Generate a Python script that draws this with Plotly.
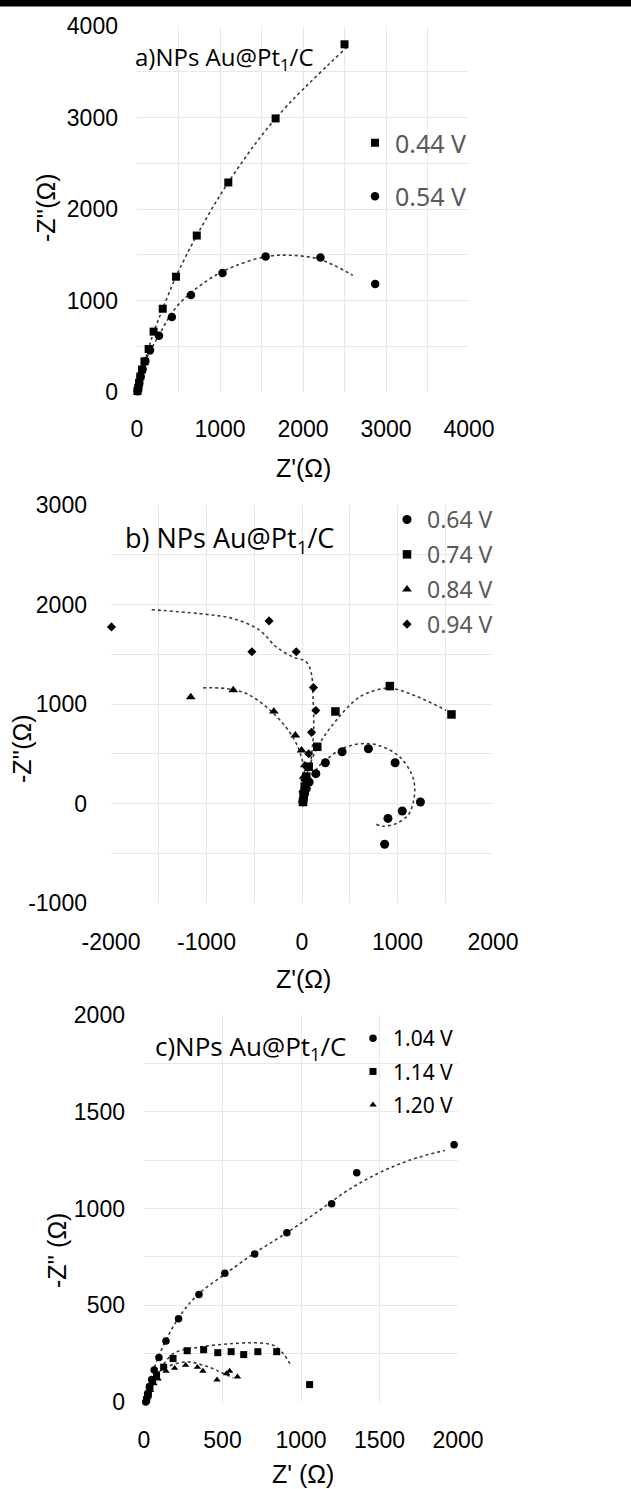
import plotly.graph_objects as go

W, H = 631, 1489

# ---------------- Panel a data ----------------
a_044_x = [5, 15, 25, 40, 60, 90, 140, 200, 310, 470, 720, 1100, 1670, 2500]
a_044_y = [10, 45, 100, 170, 245, 335, 470, 660, 910, 1260, 1710, 2290, 2990, 3800]
a_054_x = [8, 16, 28, 44, 68, 100, 156, 265, 420, 650, 1030, 1550, 2210, 2870]
a_054_y = [8, 44, 98, 170, 250, 335, 455, 615, 820, 1060, 1300, 1480, 1470, 1180]
a_044_fit_x = [0, 100, 200, 310, 470, 720, 1100, 1670, 2525]
a_044_fit_y = [0, 350, 650, 910, 1260, 1710, 2290, 2990, 3765]
a_054_fit_x = [0, 100, 270, 480, 840, 1160, 1560, 1840, 2200, 2600]
a_054_fit_y = [0, 330, 630, 935, 1215, 1370, 1480, 1495, 1450, 1275]

# ---------------- Panel b data ----------------
b_064_x = [10, 17, 28, 45, 75, 145, 245, 420, 695, 975, 1240, 1050, 900, 865]
b_064_y = [17, 50, 100, 150, 215, 300, 410, 520, 550, 410, 15, -75, -150, -410]
b_074_x = [10, 17, 28, 45, 70, 160, 350, 920, 1565]
b_074_y = [15, 85, 170, 270, 370, 570, 925, 1180, 895]
b_084_x = [7, 10, 17, 28, -5, -70, -295, -720, -1165]
b_084_y = [35, 135, 270, 385, 535, 685, 925, 1140, 1070]
b_094_x = [17, 28, 45, 70, 100, 145, 120, -60, -525, -345, -1995]
b_094_y = [100, 235, 370, 500, 715, 935, 1165, 1525, 1525, 1835, 1775]
b_064_fit_x = [0, 115, 290, 464, 674, 848, 1023, 1145, 1180, 1162, 1110, 988, 848, 778]
b_064_fit_y = [0, 301, 469, 569, 603, 569, 469, 301, 167, 0, -117, -201, -228, -208]
b_074_fit_x = [0, 63, 185, 360, 604, 848, 953, 1197, 1511]
b_074_fit_y = [0, 335, 603, 837, 1071, 1155, 1155, 1078, 937]
b_084_fit_x = [0, 10, 28, -7, -77, -199, -373, -583, -792, -1054]
b_084_fit_y = [0, 100, 301, 469, 636, 803, 971, 1105, 1155, 1162]
b_094_fit_x = [10, 63, 98, 122, 115, 98, 45, -94, -269, -443, -722, -1072, -1578]
b_094_fit_y = [33, 234, 469, 736, 1071, 1305, 1423, 1473, 1573, 1741, 1858, 1908, 1948]

# ---------------- Panel c data ----------------
c_104_x = [11, 17, 23, 34, 49, 65, 95, 140, 220, 350, 515, 705, 910, 1195, 1355, 1975]
c_104_y = [0, 17, 43, 78, 116, 165, 230, 315, 430, 555, 665, 765, 875, 1025, 1185, 1330]
c_114_x = [17, 28, 38, 55, 80, 125, 185, 275, 380, 470, 555, 635, 725, 845, 1055]
c_114_y = [12, 43, 78, 107, 140, 180, 225, 265, 270, 255, 260, 245, 260, 260, 90]
c_120_x = [28, 42, 64, 90, 140, 195, 265, 340, 375, 465, 526, 545, 595]
c_120_y = [26, 60, 95, 120, 160, 175, 190, 180, 160, 115, 147, 160, 130]
c_104_fit_x = [0, 90, 220, 350, 515, 705, 910, 1100, 1300, 1500, 1700, 1915]
c_104_fit_y = [0, 230, 435, 560, 660, 770, 875, 980, 1095, 1185, 1252, 1300]
c_114_fit_x = [60, 80, 187, 356, 568, 738, 823, 887, 929]
c_114_fit_y = [120, 140, 250, 284, 302, 305, 293, 250, 198]
c_120_fit_x = [70, 144, 271, 377, 462, 568]
c_120_fit_y = [138, 181, 207, 190, 164, 124]

# ---------------- Tick labels ----------------
a_ticks = [0, 1000, 2000, 3000, 4000]
a_ticktext = ["0", "1000", "2000", "3000", "4000"]
b_xticks = [-2000, -1000, 0, 1000, 2000]
b_xticktext = ["-2000", "-1000", "0", "1000", "2000"]
b_yticks = [-1000, 0, 1000, 2000, 3000]
b_yticktext = ["-1000", "0", "1000", "2000", "3000"]
c_ticks = [0, 500, 1000, 1500, 2000]
c_ticktext = ["0", "500", "1000", "1500", "2000"]


def px_x(p):
    return p / W


def px_y(p):
    return 1 - p / H


TICKFONT = dict(family="Liberation Sans Narrow, Liberation Sans, Arial, sans-serif", size=23, color="black")
TITLEFONT = dict(family="Open Sans, Noto Sans, sans-serif", color="black")
GRID = "#e8e8e8"
FITC = "#3a3a3a"

fig = go.Figure()


def fit(x, y, xa, ya):
    fig.add_trace(go.Scatter(x=x, y=y, mode="lines", xaxis=xa, yaxis=ya,
                             line=dict(color=FITC, width=1.6, dash="dot", shape="spline", smoothing=1.0),
                             showlegend=False, hoverinfo="skip"))


def pts(x, y, xa, ya, name, symbol, size, legend):
    fig.add_trace(go.Scatter(x=x, y=y, mode="markers", xaxis=xa, yaxis=ya, name=name,
                             legendgroup=name, legend=legend,
                             marker=dict(symbol=symbol, size=size, color="black"), cliponaxis=False))


# Panel a
fit(a_044_fit_x, a_044_fit_y, "x", "y")
fit(a_054_fit_x, a_054_fit_y, "x", "y")
pts(a_044_x, a_044_y, "x", "y", "0.44 V", "square", 8, "legend")
pts(a_054_x, a_054_y, "x", "y", "0.54 V", "circle", 8.5, "legend")

# Panel b
fit(b_064_fit_x, b_064_fit_y, "x2", "y2")
fit(b_074_fit_x, b_074_fit_y, "x2", "y2")
fit(b_084_fit_x, b_084_fit_y, "x2", "y2")
fit(b_094_fit_x, b_094_fit_y, "x2", "y2")
pts(b_064_x, b_064_y, "x2", "y2", "0.64 V", "circle", 9, "legend2")
pts(b_074_x, b_074_y, "x2", "y2", "0.74 V", "square", 8.5, "legend2")
pts(b_084_x, b_084_y, "x2", "y2", "0.84 V", "triangle-up", 8.5, "legend2")
pts(b_094_x, b_094_y, "x2", "y2", "0.94 V", "diamond", 7, "legend2")

# Panel c
fit(c_104_fit_x, c_104_fit_y, "x3", "y3")
fit(c_114_fit_x, c_114_fit_y, "x3", "y3")
fit(c_120_fit_x, c_120_fit_y, "x3", "y3")
pts(c_104_x, c_104_y, "x3", "y3", "1.04 V", "circle", 7.5, "legend3")
pts(c_114_x, c_114_y, "x3", "y3", "1.14 V", "square", 7, "legend3")
pts(c_120_x, c_120_y, "x3", "y3", "1.20 V", "triangle-up", 6.5, "legend3")


def xax(dom, rng, tv, tt, anchor, dtick_grid, standoff):
    return dict(domain=dom, range=rng, anchor=anchor, tickvals=tv, ticktext=tt,
                showgrid=True, gridcolor=GRID, gridwidth=1, zeroline=False, showline=False,
                ticks="", tickfont=TICKFONT, ticklabelstandoff=standoff, automargin=False,
                minor=dict(showgrid=True, gridcolor=GRID, dtick=dtick_grid, tick0=rng[0]),
                fixedrange=True)


def yax(dom, rng, tv, tt, anchor, dtick_grid, standoff):
    return dict(domain=dom, range=rng, anchor=anchor, tickvals=tv, ticktext=tt,
                showgrid=True, gridcolor=GRID, gridwidth=1, zeroline=False, showline=False,
                ticks="", tickfont=TICKFONT, ticklabelstandoff=standoff, automargin=False,
                minor=dict(showgrid=True, gridcolor=GRID, dtick=dtick_grid, tick0=rng[0]),
                fixedrange=True)


ann = []


def title(text, xp, yp, size, angle=0, anchor="center", font=None):
    f = dict(font or dict(family="Liberation Sans, Arial, sans-serif", color="black"))
    f["size"] = size
    ann.append(dict(text=text, x=px_x(xp), y=px_y(yp), xref="paper", yref="paper",
                    showarrow=False, textangle=angle, xanchor=anchor, yanchor="middle", font=f))


# panel labels
title("a)NPs Au@Pt<sub>1</sub>/C", 133, 58, 24, anchor="left", font=TITLEFONT)
title("b) NPs Au@Pt<sub>1</sub>/C", 123, 539, 27, anchor="left", font=TITLEFONT)
title("c)NPs Au@Pt<sub>1</sub>/C", 153, 1047, 26, anchor="left", font=TITLEFONT)
# axis titles
title("Z'(Ω)", 303, 468, 25)
title("-Z''(Ω)", 46, 208, 25, angle=-90)
title("Z'(Ω)", 303, 979, 25)
title("-Z''(Ω)", 22, 749, 25, angle=-90)
title("Z' (Ω)", 303, 1474, 25)
title("-Z'' (Ω)", 57, 1251, 25, angle=-90)

LEGFONT = "Noto Sans, Open Sans, sans-serif"

fig.update_layout(
    template="none",
    width=W, height=H,
    margin=dict(l=0, r=0, t=0, b=0, pad=0, autoexpand=False),
    paper_bgcolor="white", plot_bgcolor="white",
    xaxis=xax([px_x(137), px_x(469)], [0, 4000], a_ticks, a_ticktext, "y", 500, 21),
    yaxis=yax([px_y(392), px_y(26)], [0, 4000], a_ticks, a_ticktext, "x", 500, 18),
    xaxis2=xax([px_x(111), px_x(493)], [-2000, 2000], b_xticks, b_xticktext, "y2", 500, 23),
    yaxis2=yax([px_y(903), px_y(505)], [-1000, 3000], b_yticks, b_yticktext, "x2", 500, 23),
    xaxis3=xax([px_x(144), px_x(458)], [0, 2000], c_ticks, c_ticktext, "y3", 500, 22),
    yaxis3=yax([px_y(1402), px_y(1015)], [0, 2000], c_ticks, c_ticktext, "x3", 250, 18),
    legend=dict(x=px_x(355), y=px_y(120), xanchor="left", yanchor="top", bgcolor="rgba(0,0,0,0)",
                font=dict(family=LEGFONT, size=25, color="#5a5a5a"), tracegroupgap=18, itemwidth=30),
    legend2=dict(x=px_x(387), y=px_y(498), xanchor="left", yanchor="top", bgcolor="rgba(0,0,0,0)",
                 font=dict(family=LEGFONT, size=23, color="#5a5a5a"), tracegroupgap=2, itemwidth=30),
    legend3=dict(x=px_x(353), y=px_y(1018), xanchor="left", yanchor="top", bgcolor="rgba(0,0,0,0)",
                 font=dict(family=LEGFONT, size=21, color="black"), tracegroupgap=3, itemwidth=30),
    annotations=ann,
    shapes=[dict(type="rect", xref="paper", yref="paper", x0=0, x1=1, y0=px_y(6.5), y1=1,
                 fillcolor="black", line=dict(width=0), layer="above")],
)

fig.write_html("out.html")
